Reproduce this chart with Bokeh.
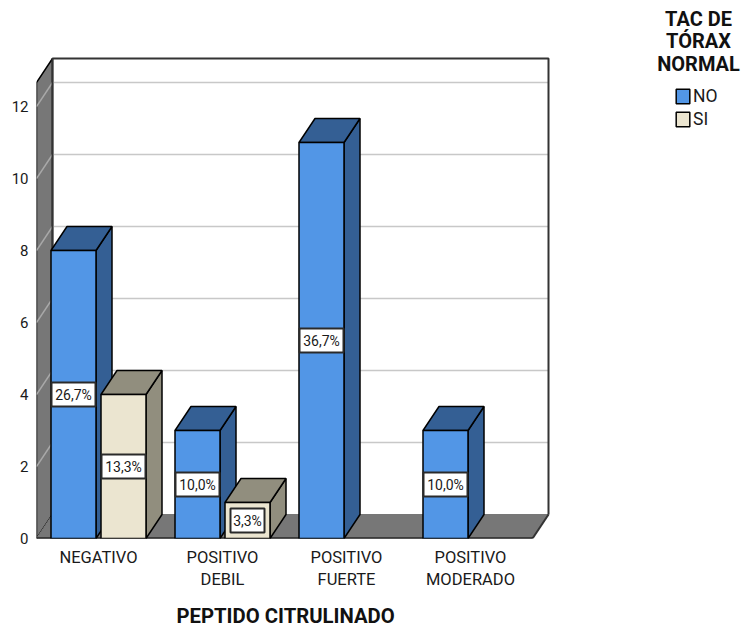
from bokeh.core.properties import value
from bokeh.embed import file_html
from bokeh.models import ColumnDataSource, FixedTicker, Label, Legend, Range1d, Title
from bokeh.plotting import figure
from bokeh.resources import INLINE

# Counts per antibody category, split by normal chest CT
categories = ["NEGATIVO", "POSITIVO\nDEBIL", "POSITIVO\nFUERTE", "POSITIVO\nMODERADO"]
no_counts = [8, 3, 11, 3]
si_counts = [4, 1, 0, 0]
no_labels = ["26,7%", "10,0%", "36,7%", "10,0%"]
si_labels = ["13,3%", "3,3%", "", ""]
y_ticks = [0, 2, 4, 6, 8, 10, 12]

# Pixel layout of the pseudo-3D box
W, H = 741, 632
LEFT, BASE = 36, 538
PX_X, PX_Y = 124.0, 36.0        # pixels per category / per count
CENTER0 = 98.0                  # pixel position of the first category
DX, DY = 16 / PX_X, 24 / PX_Y   # depth offset in data units
BAR_W = 45 / PX_X
GAP = 5 / PX_X
X0 = (LEFT - CENTER0) / PX_X
X1 = (532 - CENTER0) / PX_X
Y_TOP = 12.667

BLUE, BLUE_D = "#5296e6", "#345f94"
CREAM, CREAM_D = "#ebe5d0", "#918e7e"
WALL = "#777777"
GRID = "#c8c8c8"
FONT = "Roboto"

p = figure(
    width=W, height=H, output_backend="svg", toolbar_location=None,
    frame_width=W - LEFT, frame_height=BASE,
    x_range=Range1d(X0, (W - CENTER0) / PX_X),
    y_range=Range1d(0, BASE / PX_Y),
    min_border_left=LEFT, min_border_right=0, min_border_top=0, min_border_bottom=H - BASE,
    outline_line_color=None, background_fill_color="white",
)
p.grid.visible = False

# Axes: only labels, the box edges are drawn as glyphs
p.yaxis.ticker = FixedTicker(ticks=y_ticks)
p.xaxis.ticker = FixedTicker(ticks=list(range(len(categories))))
p.xaxis.major_label_overrides = {i: c for i, c in enumerate(categories)}
for ax in (p.xaxis, p.yaxis):
    ax.axis_line_color = None
    ax.major_tick_line_color = None
    ax.minor_tick_line_color = None
    ax.major_label_text_font = FONT
    ax.major_label_text_color = "#1a1a1a"
p.xaxis.major_label_text_font_size = "16.5px"
p.yaxis.major_label_text_font_size = "15px"
p.xaxis.major_label_standoff = 3
p.yaxis.major_label_standoff = 2

# Left wall, floor and back wall of the box
p.patch([X0, X0, X0 + DX, X0 + DX], [0, Y_TOP, Y_TOP + DY, DY],
        fill_color=WALL, line_color="black", line_width=1.5)
p.patch([X0, X1, X1 + DX, X0 + DX], [0, 0, DY, DY],
        fill_color=WALL, line_color=WALL, line_width=1)

grid_vals = y_ticks[1:]
p.segment([X0 + DX] * len(grid_vals), [v + DY for v in grid_vals],
          [X1 + DX] * len(grid_vals), [v + DY for v in grid_vals],
          line_color=GRID, line_width=1.5)
p.segment([X0] * len(grid_vals), grid_vals,
          [X0 + DX] * len(grid_vals), [v + DY for v in grid_vals],
          line_color="#a8a8a8", line_width=1.5)
p.line([X0 + DX, X0 + DX, X1 + DX, X1 + DX], [DY, Y_TOP + DY, Y_TOP + DY, DY],
       line_color="#333333", line_width=2)
p.line([X1 + DX, X1], [DY, 0], line_color="#333333", line_width=2)
p.line([X0, X1], [0, 0], line_color="black", line_width=2)


def draw_series(counts, labels, offset, front, dark, box_widths):
    """Draw the visible bars of a series: side, top and front faces, then value tags."""
    idx = [i for i, v in enumerate(counts) if v > 0]
    lefts = [i + offset for i in idx]
    rights = [x + BAR_W for x in lefts]
    tops = [counts[i] for i in idx]

    side_x = [[r, r + DX, r + DX, r] for r in rights]
    side_y = [[0, DY, t + DY, t] for t in tops]
    top_x = [[l, l + DX, r + DX, r] for l, r in zip(lefts, rights)]
    top_y = [[t, t + DY, t + DY, t] for t in tops]
    p.patches(side_x, side_y, fill_color=dark, line_color="black", line_width=1.5)
    p.patches(top_x, top_y, fill_color=dark, line_color="black", line_width=1.5)
    front_r = p.quad(left=lefts, right=rights, bottom=[0] * len(idx), top=tops,
                     fill_color=front, line_color="black", line_width=1.5)

    src = ColumnDataSource(dict(
        x=[(l + r) / 2 for l, r in zip(lefts, rights)],
        y=[t / 2 for t in tops],
        w=[box_widths[i] for i in idx],
        t=[labels[i] for i in idx],
    ))
    p.rect("x", "y", width="w", height=24, width_units="screen", height_units="screen",
           source=src, fill_color="white", line_color="#2a2a2a", line_width=2)
    p.text("x", "y", text="t", source=src, text_align="center", text_baseline="middle",
           text_font=value(FONT), text_font_size="14px", text_color="#1a1a1a")
    return front_r


r_no = draw_series(no_counts, no_labels, -(BAR_W + GAP / 2), BLUE, BLUE_D, [44, 44, 44, 44])
r_si = draw_series(si_counts, si_labels, GAP / 2, CREAM, CREAM_D, [44, 34, 0, 0])

# Category axis title, set below the axis and shifted toward the box centre
p.add_layout(Title(
    text="PEPTIDO CITRULINADO", align="left", offset=140, standoff=18,
    text_font=FONT, text_font_size="20.3px", text_font_style="bold", text_color="#111111",
), "below")

# Legend title and keys
p.add_layout(Label(
    x=(698 - CENTER0) / PX_X, y=(BASE - 41) / PX_Y, text="TAC DE\nTÓRAX\nNORMAL",
    text_align="center", text_baseline="middle", text_font=FONT,
    text_font_size="20px", text_font_style="bold", text_color="#111111", text_line_height=0.95,
))
legend = Legend(
    items=[("NO", [r_no]), ("SI", [r_si])], location=(638, 409),
    background_fill_alpha=0, border_line_color=None, padding=0, margin=0,
    glyph_width=17, glyph_height=18, spacing=3, label_standoff=2,
    label_text_font=FONT, label_text_font_size="17.5px", label_text_color="#1a1a1a",
)
p.add_layout(legend)

open("out.html", "w").write(file_html(p, INLINE))
